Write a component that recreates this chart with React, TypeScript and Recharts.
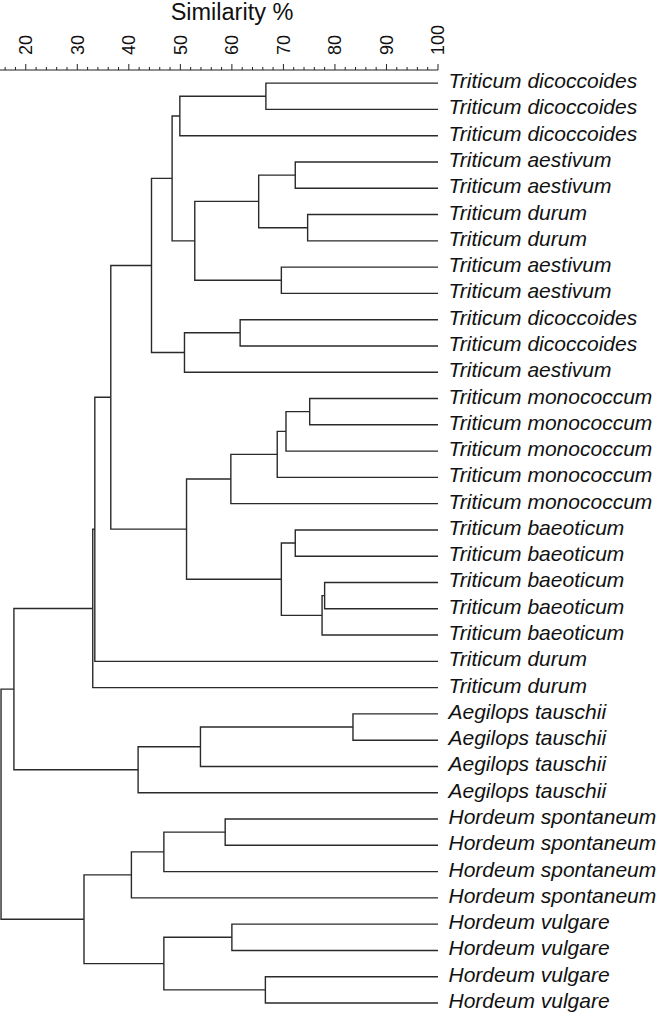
import { ComposedChart, Line, XAxis, YAxis } from 'recharts';

// leaf labels, top to bottom
const species = [
  'Triticum dicoccoides', 'Triticum dicoccoides', 'Triticum dicoccoides',
  'Triticum aestivum', 'Triticum aestivum', 'Triticum durum', 'Triticum durum',
  'Triticum aestivum', 'Triticum aestivum', 'Triticum dicoccoides',
  'Triticum dicoccoides', 'Triticum aestivum', 'Triticum monococcum',
  'Triticum monococcum', 'Triticum monococcum', 'Triticum monococcum',
  'Triticum monococcum', 'Triticum baeoticum', 'Triticum baeoticum',
  'Triticum baeoticum', 'Triticum baeoticum', 'Triticum baeoticum',
  'Triticum durum', 'Triticum durum', 'Aegilops tauschii', 'Aegilops tauschii',
  'Aegilops tauschii', 'Aegilops tauschii', 'Hordeum spontaneum',
  'Hordeum spontaneum', 'Hordeum spontaneum', 'Hordeum spontaneum',
  'Hordeum vulgare', 'Hordeum vulgare', 'Hordeum vulgare', 'Hordeum vulgare',
];

// [left, right, similarity %]; ids below 36 are leaves, 36+ are earlier merges in order
const merges: [number, number, number][] = [
  [0, 1, 66.6], [36, 2, 49.9], [3, 4, 72.3], [5, 6, 74.7], [38, 39, 65.2],
  [7, 8, 69.6], [40, 41, 52.8], [37, 42, 48.4], [9, 10, 61.6], [44, 11, 50.8],
  [43, 45, 44.4], [12, 13, 75.1], [47, 14, 70.5], [48, 15, 68.8], [49, 16, 59.8],
  [17, 18, 72.3], [19, 20, 78.0], [52, 21, 77.5], [51, 53, 69.6], [50, 54, 51.2],
  [46, 55, 36.5], [56, 22, 33.4], [57, 23, 33.0], [24, 25, 83.5], [59, 26, 53.9],
  [60, 27, 41.8], [58, 61, 17.7], [28, 29, 58.7], [63, 30, 46.8], [64, 31, 40.5],
  [32, 33, 60.0], [34, 35, 66.5], [66, 67, 46.8], [65, 68, 31.3], [62, 69, 15.2],
];

const xTicks = [16, 18, 20, 22, 24, 26, 28, 30, 32, 34, 36, 38, 40, 42, 44, 46, 48, 50,
  52, 54, 56, 58, 60, 62, 64, 66, 68, 70, 72, 74, 76, 78, 80, 82, 84, 86, 88, 90, 92, 94,
  96, 98, 100];

const font = '"Liberation Sans", Arial, sans-serif';

// positions of every node: x = similarity (100 for leaves), y = row index
const nodeX: number[] = species.map(() => 100);
const nodeY: number[] = species.map((_, i) => i);
merges.forEach(([a, b, s]) => {
  nodeX.push(s);
  nodeY.push((nodeY[a] + nodeY[b]) / 2);
});

const links = merges.map(([a, b, s]) => [
  { x: nodeX[a], y: nodeY[a] },
  { x: s, y: nodeY[a] },
  { x: s, y: nodeY[b] },
  { x: nodeX[b], y: nodeY[b] },
]);

const SimTick = (props: any) => {
  const { x, y, payload } = props;
  const major = payload.value % 10 === 0;
  return (
    <g>
      <line x1={x} x2={x} y1={y} y2={y - (major ? 6 : 3)} stroke="#222" />
      {major && (
        <text
          transform={`translate(${x},${y - 15}) rotate(-90)`}
          dy="0.36em"
          fontSize={18}
          fill="#111"
          fontFamily={font}
        >
          {payload.value}
        </text>
      )}
    </g>
  );
};

const LeafTick = (props: any) => {
  const { x, y, payload } = props;
  return (
    <text x={x + 10.5} y={y} dy={5} fontSize={21} fontStyle="italic" fill="#111" fontFamily={font}>
      {species[payload.value]}
    </text>
  );
};

export default function App() {
  return (
    <div style={{ position: 'absolute', left: 0, top: 0, background: '#fff' }}>
      <ComposedChart width={661} height={1013} margin={{ top: 0, right: 0, left: 0, bottom: 10 }}>
        <XAxis
          type="number"
          dataKey="x"
          orientation="top"
          domain={[15, 100]}
          ticks={xTicks}
          interval={0}
          height={70}
          tickLine={false}
          tickSize={0}
          tickMargin={0}
          tick={<SimTick />}
          axisLine={{ stroke: '#222' }}
          label={{
            content: (p: any) => (
              <text
                x={p.viewBox.x + p.viewBox.width / 2 + 13}
                y={p.viewBox.y + 20}
                textAnchor="middle"
                fontSize={23.5}
                fill="#111"
                fontFamily={font}
              >
                Similarity %
              </text>
            ),
          }}
        />
        <YAxis
          type="number"
          orientation="right"
          domain={[-0.5, 35]}
          reversed
          ticks={species.map((_, i) => i)}
          interval={0}
          width={223}
          axisLine={false}
          tickLine={false}
          tickSize={0}
          tickMargin={0}
          tick={<LeafTick />}
        />
        {links.map((pts, i) => (
          <Line
            key={i}
            data={pts}
            dataKey="y"
            type="linear"
            stroke="#2a2a2a"
            strokeWidth={1.4}
            dot={false}
            activeDot={false}
            isAnimationActive={false}
          />
        ))}
      </ComposedChart>
    </div>
  );
}
